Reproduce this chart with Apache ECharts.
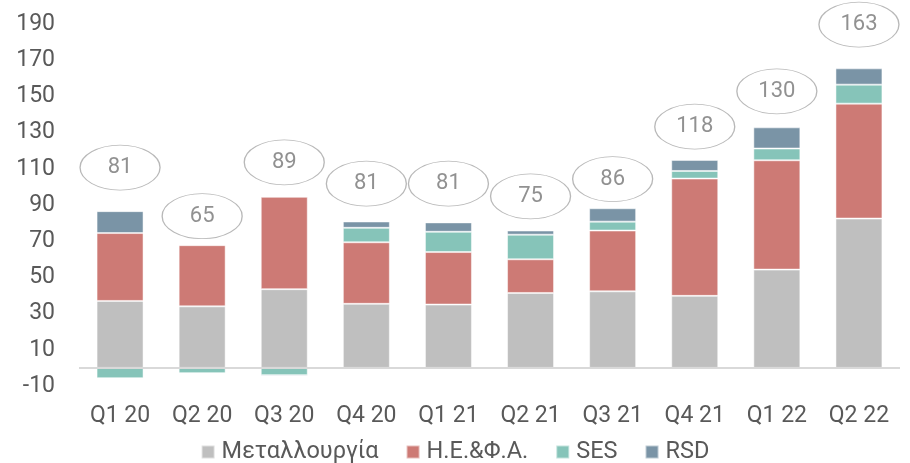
<!DOCTYPE html>
<html>
<head>
<meta charset="utf-8">
<script src="https://cdn.jsdelivr.net/npm/echarts@6/dist/echarts.min.js"></script>
<style>
  html, body { margin: 0; padding: 0; background: #fff; }
  #chart { width: 910px; height: 463px; }
</style>
</head>
<body>
<div id="chart"></div>
<script>
  var quarters = ['Q1 20', 'Q2 20', 'Q3 20', 'Q4 20', 'Q1 21', 'Q2 21', 'Q3 21', 'Q4 21', 'Q1 22', 'Q2 22'];
  var metal = [37, 34, 43.5, 35.4, 35, 41.4, 42.3, 39.8, 54.3, 82.5];
  var heafa = [37.5, 33.8, 51, 34, 29, 18.6, 33.6, 64.8, 60.4, 63.5];
  var ses = [-5.7, -3, -4, 8, 11.2, 13.6, 4.9, 4.2, 6.5, 10.5];
  var rsd = [12.1, 0, -0.8, 3.5, 5.2, 2.3, 7.4, 6.1, 11.7, 9];
  var totals = [81, 65, 89, 81, 81, 75, 86, 118, 130, 163];
  // height (in axis units) where each total bubble sits
  var bubbleY = [110.7, 83.8, 113.6, 101.8, 101.8, 94.8, 104.3, 133.3, 152.8, 189.7];
  var yTicks = { min: -10, max: 190, step: 20 };

  var chart = echarts.init(document.getElementById('chart'));
  var font = 'Roboto, "Noto Sans", sans-serif';

  function barSeries(name, data, color) {
    return {
      name: name,
      type: 'bar',
      stack: 'total',
      barWidth: 47,
      data: data,
      itemStyle: { color: color, borderColor: 'rgba(255,255,255,0.5)', borderWidth: 1 }
    };
  }

  var series = [
    barSeries('Μεταλλουργία', metal, '#bfbfbf'),
    barSeries('Η.Ε.&Φ.Α.', heafa, '#cd7a75'),
    barSeries('SES', ses, '#86c4b9'),
    barSeries('RSD', rsd, '#7a94a6')
  ];
  series[0].markLine = {
    silent: true,
    symbol: 'none',
    label: { show: false },
    lineStyle: { color: '#d9d9d9', width: 2, type: 'solid' },
    data: [{ yAxis: 0 }]
  };
  series.push({
    name: 'totals',
    type: 'scatter',
    clip: false,
    symbol: 'circle',
    symbolSize: [80, 45],
    z: 5,
    data: quarters.map(function (q, i) { return [q, bubbleY[i], totals[i]]; }),
    itemStyle: { color: '#fff', borderColor: '#a6a6a6', borderWidth: 1 },
    label: {
      show: true,
      position: 'inside',
      formatter: function (p) { return p.value[2]; },
      color: '#767676',
      fontSize: 22,
      fontFamily: font
    }
  });

  var option = {
    animation: false,
    textStyle: { fontFamily: font },
    grid: { left: 79, right: 10, top: 24, bottom: 77 },
    legend: {
      data: ['Μεταλλουργία', 'Η.Ε.&Φ.Α.', 'SES', 'RSD'],
      top: 440,
      left: 'center',
      padding: 0,
      itemWidth: 13,
      itemHeight: 13,
      itemGap: 27,
      icon: 'rect',
      textStyle: { color: '#595959', fontSize: 23.5, fontFamily: font, padding: [0, 0, 0, 2] }
    },
    xAxis: {
      type: 'category',
      data: quarters,
      axisLine: { show: false, onZero: false },
      axisTick: { show: false },
      axisLabel: { color: '#595959', fontSize: 23, margin: 19, fontFamily: font }
    },
    yAxis: {
      type: 'value',
      min: yTicks.min,
      max: yTicks.max,
      interval: yTicks.step,
      splitLine: { show: false },
      axisLine: { show: false },
      axisTick: { show: false },
      axisLabel: { color: '#595959', fontSize: 23, margin: 24, fontFamily: font }
    },
    series: series
  };

  chart.setOption(option);
</script>
</body>
</html>
